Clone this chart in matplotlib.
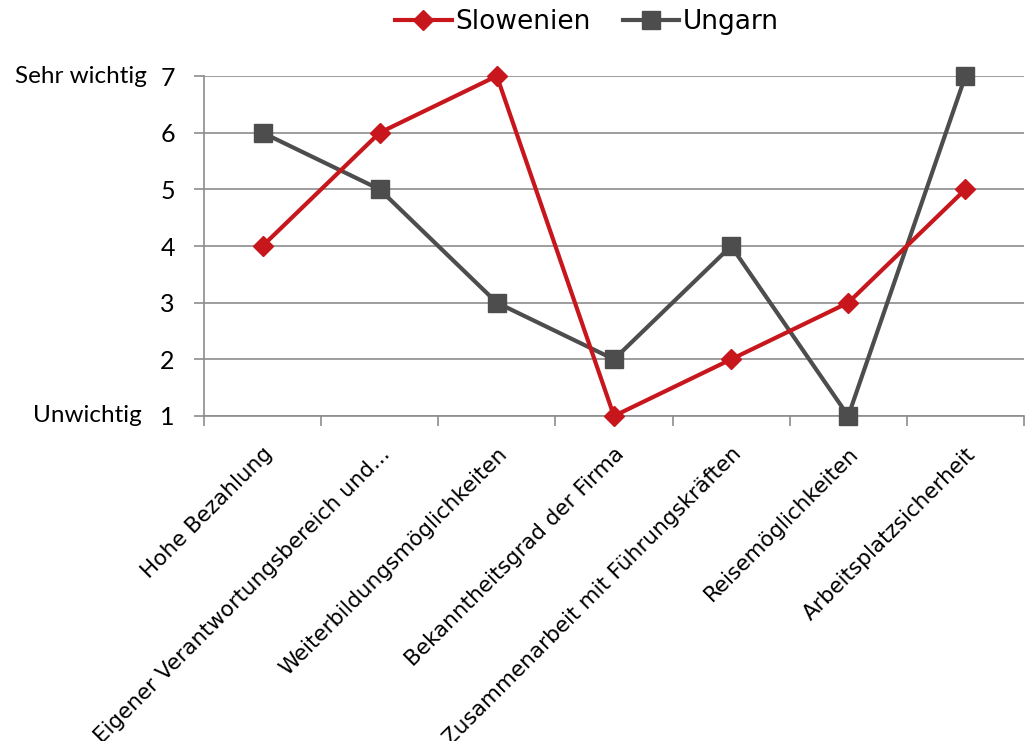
import numpy as np
import matplotlib
matplotlib.use("Agg")
import matplotlib.pyplot as plt
from matplotlib.ticker import FixedLocator

# data
categories = [
    "Hohe Bezahlung",
    "Eigener Verantwortungsbereich und...",
    "Weiterbildungsmöglichkeiten",
    "Bekanntheitsgrad der Firma",
    "Zusammenarbeit mit Führungskräften",
    "Reisemöglichkeiten",
    "Arbeitsplatzsicherheit",
]
slowenien = [4, 6, 7, 1, 2, 3, 5]
ungarn = [6, 5, 3, 2, 4, 1, 7]
y_ticks = [1, 2, 3, 4, 5, 6, 7]

red = "#C8161D"
grey = "#4D4D4D"
axis_grey = "#8C8C8C"

fig = plt.figure(figsize=(10.28, 7.41), dpi=100)
ax = fig.add_axes([0.1984, 0.4386, 0.7977, 0.4588])

x = np.arange(len(categories))
ax.plot(x, slowenien, color=red, lw=3, marker="D", ms=10, label="Slowenien",
        clip_on=False, zorder=4)
ax.plot(x, ungarn, color=grey, lw=3, marker="s", ms=13, label="Ungarn",
        clip_on=False, zorder=3)

ax.set_xlim(-0.5, len(categories) - 0.5)
ax.set_ylim(1, 7)
ax.set_yticks(y_ticks)
ax.yaxis.grid(True, color=axis_grey, lw=1.2)
ax.set_axisbelow(True)

for s in ["top", "right"]:
    ax.spines[s].set_visible(False)
for s in ["left", "bottom"]:
    ax.spines[s].set_color(axis_grey)
    ax.spines[s].set_linewidth(1.2)

ax.tick_params(axis="y", length=7, width=1.2, color=axis_grey, pad=14,
               labelsize=18)
for lbl in ax.get_yticklabels():
    lbl.set_fontfamily("Lato")

# category labels centred on points, tick marks between categories
ax.set_xticks(x)
ax.set_xticklabels(categories, rotation=45, ha="right", va="top",
                   rotation_mode="anchor", fontsize=15.5)
ax.tick_params(axis="x", which="major", length=0, pad=20)
ax.xaxis.set_minor_locator(FixedLocator(np.arange(-0.5, len(categories), 1.0)))
ax.tick_params(axis="x", which="minor", length=7, width=1.2, color=axis_grey)

ax.text(-0.07, 7, "Sehr wichtig", transform=ax.get_yaxis_transform(),
        ha="right", va="center", fontsize=17.5, family="Lato")
ax.text(-0.076, 1, "Unwichtig", transform=ax.get_yaxis_transform(),
        ha="right", va="center", fontsize=17.5, family="Lato")

fig.legend(loc="center", bbox_to_anchor=(0.571, 0.97), ncol=2,
           frameon=False, fontsize=19, handlelength=2.15, handletextpad=0.15,
           columnspacing=1.2)

fig.savefig("out.png", dpi=100)
